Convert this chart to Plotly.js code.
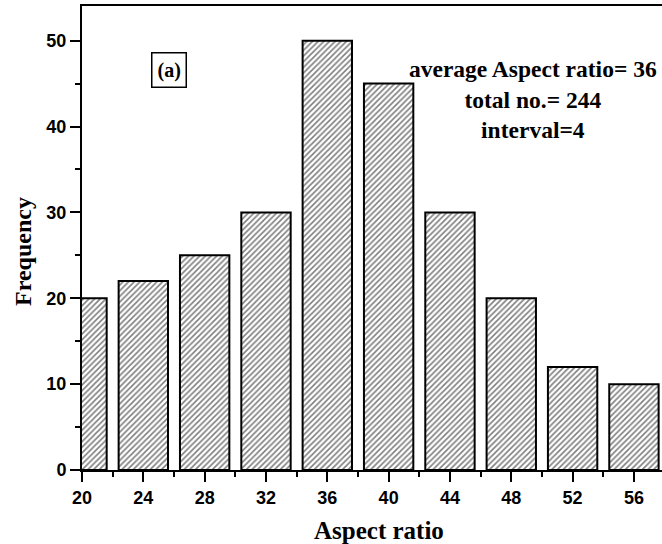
<!DOCTYPE html>
<html>
<head>
<meta charset="utf-8">
<script src="https://cdn.plot.ly/plotly-3.0.1.min.js"></script>
<style>html,body{margin:0;padding:0;background:#fff}</style>
</head>
<body>
<div id="chart" style="width:662px;height:544px"></div>
<script>
// Histogram of aspect ratios, bin interval 4
const binCenters = [20, 24, 28, 32, 36, 40, 44, 48, 52, 56];
const frequency = [20, 22, 25, 30, 50, 45, 30, 20, 12, 10];
const xTickVals = [20, 24, 28, 32, 36, 40, 44, 48, 52, 56];
const yTickVals = [0, 10, 20, 30, 40, 50];
const statsLines = ['average Aspect ratio= 36', 'total no.= 244', 'interval=4'];

const serifBold = 'Liberation Serif, Times New Roman, serif';
const sansBold = 'Liberation Sans, Arial, sans-serif';

const trace = {
  type: 'bar',
  x: binCenters,
  y: frequency,
  width: 3.22,
  marker: {
    color: '#ffffff',
    line: {color: '#000', width: 2},
    pattern: {shape: '/', fgcolor: '#000', bgcolor: '#fff', size: 4, solidity: 0.4, fillmode: 'overlay'}
  },
  hoverinfo: 'skip'
};

const layout = {
  width: 662,
  height: 544,
  margin: {l: 82, r: 0, t: 6, b: 74},
  paper_bgcolor: '#fff',
  plot_bgcolor: '#fff',
  showlegend: false,
  bargap: 0,
  xaxis: {
    range: [20, 57.83],
    tickvals: xTickVals,
    ticks: 'outside', ticklen: 10, tickwidth: 2, tickcolor: '#000',
    minor: {dtick: 2, tick0: 20, ticks: 'outside', ticklen: 5, tickwidth: 2, tickcolor: '#000', showgrid: false},
    showline: true, linecolor: '#000', linewidth: 2, mirror: true,
    showgrid: false, zeroline: false,
    tickfont: {family: sansBold, size: 18, color: '#000', weight: 700}
  },
  yaxis: {
    range: [0, 54.04],
    tickvals: yTickVals,
    ticks: 'outside', ticklen: 10, tickwidth: 2, tickcolor: '#000',
    minor: {dtick: 5, tick0: 0, ticks: 'outside', ticklen: 5, tickwidth: 2, tickcolor: '#000', showgrid: false},
    showline: true, linecolor: '#000', linewidth: 2, mirror: false,
    showgrid: false, zeroline: false,
    tickfont: {family: sansBold, size: 18, color: '#000', weight: 700}
  },
  annotations: [
    {
      text: '<b>' + statsLines.join('<br>') + '</b>',
      xref: 'x', yref: 'y', x: 49.4, y: 43.1,
      xanchor: 'center', yanchor: 'middle', align: 'center',
      showarrow: false,
      font: {family: serifBold, size: 23.5, color: '#000'}
    },
    {
      text: '<b>(a)</b>',
      xref: 'paper', yref: 'paper', x: (169 - 82) / 580, y: (470 - 70) / 464,
      xanchor: 'center', yanchor: 'middle',
      showarrow: false,
      bordercolor: '#000', borderwidth: 1.5, borderpad: 5,
      font: {family: serifBold, size: 20, color: '#000'}
    },
    {
      text: '<b>Aspect ratio</b>',
      xref: 'paper', yref: 'paper', x: (379 - 82) / 580, y: (470 - 530) / 464,
      xanchor: 'center', yanchor: 'middle',
      showarrow: false,
      font: {family: serifBold, size: 25, color: '#000'}
    },
    {
      text: '<b>Frequency</b>',
      xref: 'paper', yref: 'paper', x: (23 - 82) / 580, y: (470 - 252) / 464,
      xanchor: 'center', yanchor: 'middle', textangle: -90,
      showarrow: false,
      font: {family: serifBold, size: 24, color: '#000'}
    }
  ]
};

Plotly.newPlot('chart', [trace], layout, {staticPlot: true, displayModeBar: false});
</script>
</body>
</html>
